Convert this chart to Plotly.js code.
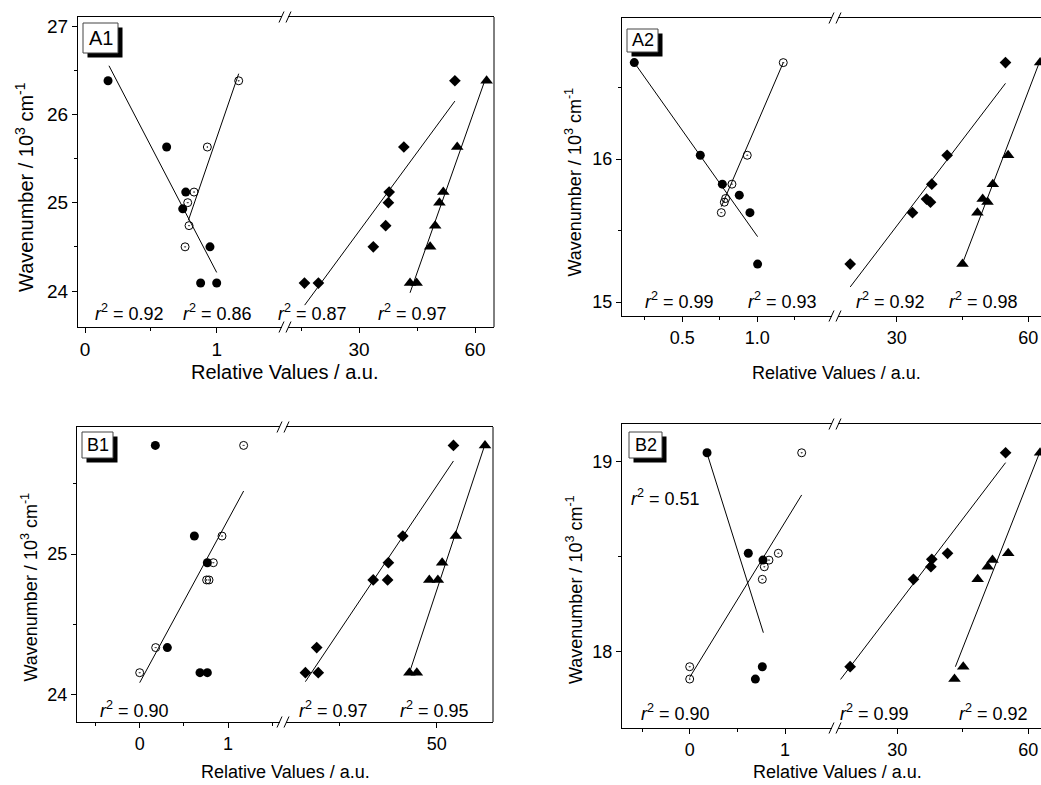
<!DOCTYPE html>
<html><head><meta charset="utf-8">
<script src="https://cdn.plot.ly/plotly-3.0.1.min.js"></script>
<style>html,body{margin:0;padding:0;overflow:hidden;background:#fff}#plot{width:1060px;height:785px}</style>
</head><body><div id="plot"></div>
<script>
// ---------------- DATA ----------------
// Panel A1
const a1_fc_x = [0.175, 0.62, 0.765, 0.742, 0.949, 0.878, 1.0];
const a1_fc_y = [26.38, 25.63, 25.12, 24.93, 24.50, 24.09, 24.09];
const a1_oc_x = [1.167, 0.929, 0.828, 0.78, 0.79, 0.76];
const a1_oc_y = [26.38, 25.63, 25.12, 25.00, 24.74, 24.50];
const a1_di_x = [54.8, 41.6, 37.8, 37.6, 36.9, 33.7, 15.9, 19.5];
const a1_di_y = [26.38, 25.63, 25.12, 25.00, 24.74, 24.50, 24.09, 24.09];
const a1_tr_x = [63.0, 55.4, 51.8, 50.8, 49.7, 48.4, 43.2, 44.9];
const a1_tr_y = [26.38, 25.63, 25.12, 25.00, 24.74, 24.50, 24.09, 24.09];
const a1_fit_fc_x = [0.182, 1.0],  a1_fit_fc_y = [26.55, 24.21];
const a1_fit_oc_x = [0.785, 1.167], a1_fit_oc_y = [24.80, 26.46];
const a1_fit_di_x = [15.95, 54.8], a1_fit_di_y = [23.84, 26.15];
const a1_fit_tr_x = [43.2, 62.6],  a1_fit_tr_y = [23.98, 26.39];
const a1_r2 = ['0.92', '0.86', '0.87', '0.97'];

// Panel A2
const a2_fc_x = [0.18, 0.62, 0.767, 0.88, 0.951, 1.002];
const a2_fc_y = [16.674, 16.026, 15.824, 15.747, 15.625, 15.265];
const a2_oc_x = [1.173, 0.933, 0.831, 0.789, 0.78, 0.76];
const a2_oc_y = [16.674, 16.026, 15.824, 15.724, 15.698, 15.625];
const a2_di_x = [54.8, 41.5, 38.0, 36.8, 37.7, 33.6, 19.4];
const a2_di_y = [16.674, 16.026, 15.824, 15.72, 15.698, 15.625, 15.265];
const a2_tr_x = [62.7, 55.4, 51.9, 49.6, 50.7, 48.4, 45.0];
const a2_tr_y = [16.674, 16.026, 15.824, 15.72, 15.70, 15.625, 15.265];
const a2_fit_fc_x = [0.18, 1.002], a2_fit_fc_y = [16.674, 15.457];
const a2_fit_oc_x = [0.76, 1.173], a2_fit_oc_y = [15.667, 16.674];
const a2_fit_di_x = [19.4, 54.8],  a2_fit_di_y = [15.105, 16.529];
const a2_fit_tr_x = [45.0, 62.7],  a2_fit_tr_y = [15.27, 16.69];
const a2_r2 = ['0.99', '0.93', '0.92', '0.98'];

// Panel B1
const b1_fc_x = [0.177, 0.619, 0.766, 0.313, 0.683, 0.766];
const b1_fc_y = [25.774, 25.128, 24.938, 24.333, 24.154, 24.154];
const b1_oc_x = [1.177, 0.932, 0.834, 0.785, 0.758, 0.181, 0.0];
const b1_oc_y = [25.774, 25.128, 24.938, 24.815, 24.815, 24.333, 24.154];
const b1_di_x = [54.3, 41.3, 37.6, 37.4, 33.7, 19.2, 16.3, 19.6];
const b1_di_y = [25.774, 25.128, 24.938, 24.815, 24.815, 24.333, 24.154, 24.154];
const b1_tr_x = [62.4, 54.9, 51.4, 50.3, 48.1, 43.0, 44.9];
const b1_tr_y = [25.774, 25.128, 24.938, 24.815, 24.815, 24.154, 24.154];
const b1_fit_oc_x = [0.0, 1.177],  b1_fit_oc_y = [24.083, 25.449];
const b1_fit_di_x = [16.3, 54.3],  b1_fit_di_y = [24.09, 25.663];
const b1_fit_tr_x = [43.0, 62.2],  b1_fit_tr_y = [24.154, 25.765];
const b1_r2 = ['0.90', '0.97', '0.95'];

// Panel B2
const b2_fc_x = [0.182, 0.615, 0.769, 0.762, 0.689];
const b2_fc_y = [19.047, 18.518, 18.482, 17.921, 17.856];
const b2_oc_x = [1.175, 0.93, 0.832, 0.783, 0.762, 0.0, 0.0];
const b2_oc_y = [19.047, 18.518, 18.482, 18.447, 18.381, 17.921, 17.856];
const b2_di_x = [54.8, 41.5, 37.9, 37.7, 33.7, 19.2];
const b2_di_y = [19.047, 18.518, 18.486, 18.447, 18.381, 17.921];
const b2_tr_x = [62.7, 55.4, 51.8, 50.7, 48.4, 45.1, 43.1];
const b2_tr_y = [19.047, 18.518, 18.482, 18.447, 18.381, 17.921, 17.856];
const b2_fit_fc_x = [0.182, 0.773], b2_fit_fc_y = [19.044, 18.10];
const b2_fit_oc_x = [0.0, 1.175],   b2_fit_oc_y = [17.865, 18.825];
const b2_fit_di_x = [17.0, 54.8],   b2_fit_di_y = [17.854, 18.995];
const b2_fit_tr_x = [43.3, 62.8],   b2_fit_tr_y = [17.921, 19.06];
const b2_r2 = ['0.51', '0.90', '0.99', '0.92'];

const panelLabels = ['A1', 'A2', 'B1', 'B2'];
const yTitle = 'Wavenumber / 10<sup>3</sup> cm<sup>-1</sup>';
const xTitle = 'Relative Values / a.u.';

// ---------------- LAYOUT HELPERS ----------------
const W = 1060, H = 785;
const FONT = 'Arial, "Liberation Sans", sans-serif';
const PX = p => p / W, PY = p => 1 - p / H;
function valAt(a, b, p) { return a[0] + (p - a[1]) * (b[0] - a[0]) / (b[1] - a[1]); }

const panels = [
  { L:78, R:494, T:17, B:327, bx:285,
    lx:{a:[0,85], b:[1,216.7], dtick:1, minor:0.5, fmt:''},
    rx:{a:[30,359], b:[60,475], dtick:30, minor:15},
    y:{a:[27,26], b:[24,291], dtick:1, minor:0.5},
    tick:19, title:20, lab:20,
    box:[83,23,118,53], yt:[25,187], xt:[285,372],
    r2pos:[[129,312],[217,312],[312,312],[412,312]],
    fc:[a1_fc_x,a1_fc_y], oc:[a1_oc_x,a1_oc_y], di:[a1_di_x,a1_di_y], tr:[a1_tr_x,a1_tr_y],
    fitsL:[[a1_fit_fc_x,a1_fit_fc_y],[a1_fit_oc_x,a1_fit_oc_y]],
    fitsR:[[a1_fit_di_x,a1_fit_di_y],[a1_fit_tr_x,a1_fit_tr_y]], r2:a1_r2 },
  { L:622, R:1050, T:18, B:316, bx:835,
    lx:{a:[0.5,682.3], b:[1.0,757.3], dtick:0.5, minor:0.25, fmt:'.1f'},
    rx:{a:[30,896.7], b:[60,1028.3], dtick:30, minor:15},
    y:{a:[16,159], b:[15,302], dtick:1, minor:0.5},
    tick:18, title:18, lab:18,
    box:[627,29,658,52], yt:[574,182.5], xt:[836,373],
    r2pos:[[679,300],[782,300],[890,300],[983,300]],
    fc:[a2_fc_x,a2_fc_y], oc:[a2_oc_x,a2_oc_y], di:[a2_di_x,a2_di_y], tr:[a2_tr_x,a2_tr_y],
    fitsL:[[a2_fit_fc_x,a2_fit_fc_y],[a2_fit_oc_x,a2_fit_oc_y]],
    fitsR:[[a2_fit_di_x,a2_fit_di_y],[a2_fit_tr_x,a2_fit_tr_y]], r2:a2_r2 },
  { L:77, R:493, T:427, B:722, bx:283,
    lx:{a:[0,139.7], b:[1,228], dtick:1, minor:0.5, fmt:''},
    rx:{a:[25,339.3], b:[50,436.7], dtick:50, minor:25},
    y:{a:[25,554], b:[24,694.3], dtick:1, minor:0.5},
    tick:18, title:18, lab:18,
    box:[82,432,113,458], yt:[30,587.5], xt:[285,772],
    r2pos:[[134,709],[333,709],[434,709]],
    fc:[b1_fc_x,b1_fc_y], oc:[b1_oc_x,b1_oc_y], di:[b1_di_x,b1_di_y], tr:[b1_tr_x,b1_tr_y],
    fitsL:[[b1_fit_oc_x,b1_fit_oc_y]],
    fitsR:[[b1_fit_di_x,b1_fit_di_y],[b1_fit_tr_x,b1_fit_tr_y]], r2:b1_r2 },
  { L:622, R:1050, T:424, B:728, bx:835,
    lx:{a:[0,689.7], b:[1,785], dtick:1, minor:0.5, fmt:''},
    rx:{a:[30,897.3], b:[60,1028.3], dtick:30, minor:15},
    y:{a:[19,461.7], b:[18,651.7], dtick:1, minor:0.5},
    tick:18, title:18, lab:18,
    box:[629,432,662,458], yt:[574,590], xt:[837,772],
    r2pos:[[665,497],[675,712],[874,712],[993,712]],
    fc:[b2_fc_x,b2_fc_y], oc:[b2_oc_x,b2_oc_y], di:[b2_di_x,b2_di_y], tr:[b2_tr_x,b2_tr_y],
    fitsL:[[b2_fit_fc_x,b2_fit_fc_y],[b2_fit_oc_x,b2_fit_oc_y]],
    fitsR:[[b2_fit_di_x,b2_fit_di_y],[b2_fit_tr_x,b2_fit_tr_y]], r2:b2_r2 }
];

const traces = [], shapes = [], annotations = [];
const layout = { width: W, height: H, margin:{l:0,r:0,t:0,b:0}, showlegend:false,
  paper_bgcolor:'white', plot_bgcolor:'rgba(0,0,0,0)', font:{family:FONT, color:'black'} };

function axisBase(size) {
  return { showline:true, linecolor:'black', linewidth:1, ticks:'outside', ticklen:5, tickwidth:1,
    tickcolor:'black', showgrid:false, zeroline:false, fixedrange:true,
    tickfont:{family:FONT, size:size, color:'black'} };
}
const line = (x0,y0,x1,y1) => ({type:'line', xref:'paper', yref:'paper', x0:PX(x0), y0:PY(y0), x1:PX(x1), y1:PY(y1), line:{color:'black', width:1}});

panels.forEach((p, i) => {
  const xl = 'x' + (2*i+1 === 1 ? '' : 2*i+1), xr = 'x' + (2*i+2);
  const yy = 'y' + (i === 0 ? '' : i+1);
  const g = 3;
  const xlKey = 'xaxis' + (2*i+1 === 1 ? '' : 2*i+1), xrKey = 'xaxis' + (2*i+2), yKey = 'yaxis' + (i === 0 ? '' : i+1);

  layout[xlKey] = Object.assign(axisBase(p.tick), {
    domain:[PX(p.L), PX(p.bx-g)], anchor:yy, mirror:true,
    range:[valAt(p.lx.a,p.lx.b,p.L), valAt(p.lx.a,p.lx.b,p.bx-g)],
    tick0:0, dtick:p.lx.dtick, tickformat:p.lx.fmt,
    minor:{dtick:p.lx.minor, tick0:0, ticks:'outside', ticklen:3, tickwidth:1, tickcolor:'black', showgrid:false}
  });
  layout[xrKey] = Object.assign(axisBase(p.tick), {
    domain:[PX(p.bx+g), PX(p.R)], anchor:yy, mirror:true,
    range:[valAt(p.rx.a,p.rx.b,p.bx+g), valAt(p.rx.a,p.rx.b,p.R)],
    tick0:0, dtick:p.rx.dtick,
    minor:{dtick:p.rx.minor, tick0:0, ticks:'outside', ticklen:3, tickwidth:1, tickcolor:'black', showgrid:false}
  });
  layout[yKey] = Object.assign(axisBase(p.tick), {
    domain:[PY(p.B), PY(p.T)], anchor:xl, mirror:false,
    range:[valAt(p.y.a,p.y.b,p.B), valAt(p.y.a,p.y.b,p.T)],
    tick0:0, dtick:p.y.dtick,
    minor:{dtick:p.y.minor, tick0:0, ticks:'outside', ticklen:3, tickwidth:1, tickcolor:'black', showgrid:false}
  });

  // markers
  traces.push({x:p.fc[0], y:p.fc[1], xaxis:xl, yaxis:yy, mode:'markers', type:'scatter', cliponaxis:false,
    marker:{symbol:'circle', size:9, color:'black'}});
  traces.push({x:p.oc[0], y:p.oc[1], xaxis:xl, yaxis:yy, mode:'markers', type:'scatter', cliponaxis:false,
    marker:{symbol:'circle-open-dot', size:8, color:'black', line:{width:1, color:'black'}}});
  traces.push({x:p.di[0], y:p.di[1], xaxis:xr, yaxis:yy, mode:'markers', type:'scatter', cliponaxis:false,
    marker:{symbol:'diamond', size:9, color:'black'}});
  traces.push({x:p.tr[0], y:p.tr[1], xaxis:xr, yaxis:yy, mode:'markers', type:'scatter', cliponaxis:false,
    marker:{symbol:'triangle-up', size:11, color:'black'}});
  p.fitsL.forEach(f => traces.push({x:f[0], y:f[1], xaxis:xl, yaxis:yy, mode:'lines', type:'scatter', line:{color:'black', width:1}}));
  p.fitsR.forEach(f => traces.push({x:f[0], y:f[1], xaxis:xr, yaxis:yy, mode:'lines', type:'scatter', line:{color:'black', width:1}}));

  // frame right edge
  shapes.push(line(p.R, p.T, p.R, p.B));
  // axis break marks
  [p.T, p.B].forEach(yv => [-3.5, 3.5].forEach(o => shapes.push(line(p.bx+o-2.5, yv+5.5, p.bx+o+2.5, yv-5.5))));
  // label box with shadow
  const b = p.box;
  shapes.push({type:'rect', xref:'paper', yref:'paper', x0:PX(b[0]+4.5), x1:PX(b[2]+4.5), y0:PY(b[3]+4.5), y1:PY(b[1]+4.5), fillcolor:'black', line:{width:0}});
  shapes.push({type:'rect', xref:'paper', yref:'paper', x0:PX(b[0]), x1:PX(b[2]), y0:PY(b[3]), y1:PY(b[1]), fillcolor:'white', line:{color:'#444', width:1}});
  annotations.push({xref:'paper', yref:'paper', x:PX((b[0]+b[2])/2), y:PY((b[1]+b[3])/2), text:panelLabels[i], showarrow:false,
    xanchor:'center', yanchor:'middle', font:{family:FONT, size:p.lab, color:'black'}});
  // titles
  annotations.push({xref:'paper', yref:'paper', x:PX(p.yt[0]), y:PY(p.yt[1]), text:yTitle, textangle:-90, showarrow:false,
    xanchor:'center', yanchor:'middle', font:{family:FONT, size:p.title, color:'black'}});
  annotations.push({xref:'paper', yref:'paper', x:PX(p.xt[0]), y:PY(p.xt[1]), text:xTitle, showarrow:false,
    xanchor:'center', yanchor:'middle', font:{family:FONT, size:p.title, color:'black'}});
  // r^2 labels
  p.r2.forEach((v, k) => annotations.push({xref:'paper', yref:'paper', x:PX(p.r2pos[k][0]), y:PY(p.r2pos[k][1]),
    text:'<i>r</i><sup>2</sup> = ' + v, showarrow:false, xanchor:'center', yanchor:'middle',
    font:{family:FONT, size:18, color:'black'}}));
});

layout.shapes = shapes;
layout.annotations = annotations;
Plotly.newPlot('plot', traces, layout, {displayModeBar:false, staticPlot:true});
</script>
</body></html>
